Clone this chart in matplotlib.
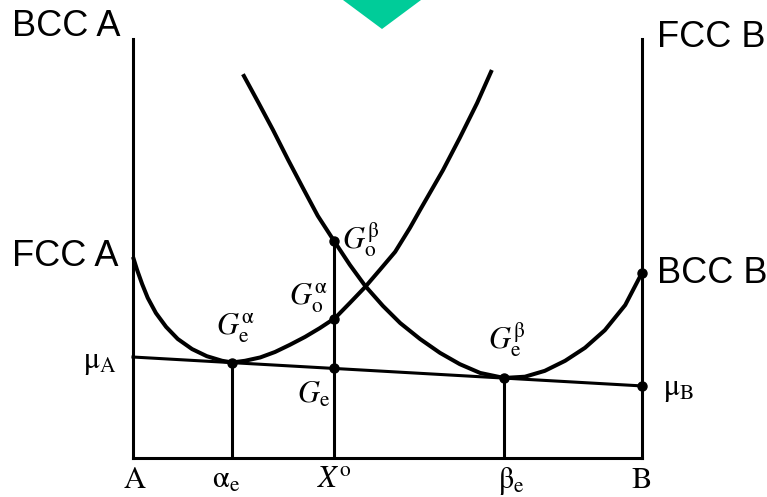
import numpy as np
import matplotlib.pyplot as plt
from matplotlib.patches import Polygon

plt.rcParams['mathtext.fontset'] = 'stix'

# composition (mole fraction of B) and free energy (arbitrary units, 0 at the base line)
x_alpha = [0.0, 0.008, 0.018, 0.029, 0.045, 0.065, 0.088, 0.116, 0.145, 0.175, 0.195,
           0.22, 0.25, 0.279, 0.308, 0.338, 0.367, 0.397, 0.426, 0.456, 0.485, 0.515,
           0.544, 0.564, 0.609, 0.642, 0.676, 0.705]
g_alpha = [48.0, 44.9, 41.5, 38.2, 34.6, 31.3, 28.4, 26.0, 24.3, 23.2, 22.8,
           23.2, 24.0, 25.3, 27.0, 28.9, 31.0, 33.4, 37.0, 40.8, 44.9, 49.2,
           54.9, 59.2, 68.7, 76.4, 84.7, 92.6]

x_beta = [0.216, 0.246, 0.275, 0.305, 0.334, 0.363, 0.395, 0.426, 0.456, 0.491, 0.525,
          0.564, 0.603, 0.642, 0.682, 0.729, 0.770, 0.809, 0.849, 0.888, 0.927, 0.967, 1.0]
g_beta = [91.6, 84.9, 78.3, 71.1, 64.4, 57.8, 51.8, 46.1, 41.1, 36.3, 32.2,
          28.4, 25.1, 22.4, 20.3, 19.1, 19.4, 20.8, 23.2, 26.3, 30.5, 36.5, 44.2]

# common tangent end points (chemical potentials)
mu_A = 24.1
mu_B = 17.2

# compositions
x_e_alpha = 0.195
x_e_beta = 0.729
x_o = 0.395

comp_labels = ['A', r'$\mathrm{α}_\mathrm{e}$', r'$X^\mathrm{o}$', r'$\mathrm{β}_\mathrm{e}$', 'B']
comp_values = [0.0, x_e_alpha, x_o, x_e_beta, 1.0]
comp_shift = [2, -6, 0, 7, 0]


def tangent(x):
    return mu_A + (mu_B - mu_A) * x


W, H = 767, 497
fig = plt.figure(figsize=(W / 100, H / 100), dpi=100)
ax = fig.add_axes([133 / W, 39 / H, 509 / W, 419 / H])
ax.set_xlim(0, 1)
ax.set_ylim(0, 100)
ax.set_xticks([])
ax.set_yticks([])
ax.spines['top'].set_visible(False)
for s in ['left', 'right', 'bottom']:
    ax.spines[s].set_linewidth(2.2)
    ax.spines[s].set_capstyle('projecting')

lw = 2.9
ax.plot(x_alpha, g_alpha, color='black', lw=lw, solid_capstyle='butt', clip_on=False)
ax.plot(x_beta, g_beta, color='black', lw=lw, solid_capstyle='butt', clip_on=False)
ax.plot([0, 1], [mu_A, mu_B], color='black', lw=2.2, clip_on=False)

g_o_alpha = np.interp(x_o, x_alpha, g_alpha)
g_o_beta = np.interp(x_o, x_beta, g_beta)
g_e = tangent(x_o)
g_e_alpha = tangent(x_e_alpha)
g_e_beta = tangent(x_e_beta)

ax.vlines([x_e_alpha, x_o, x_e_beta], 0, [g_e_alpha, g_o_beta, g_e_beta],
          color='black', lw=2.2)

dots_x = [x_e_alpha, x_o, x_o, x_o, x_e_beta, 1.0, 1.0]
dots_g = [g_e_alpha, g_e, g_o_alpha, g_o_beta, g_e_beta, g_beta[-1], mu_B]
ax.plot(dots_x, dots_g, 'o', color='black', ms=6.5, clip_on=False, zorder=5)

serif = dict(fontsize=22, color='black', family='STIXGeneral')


def label(text, x, g, dx, dy, ha='center'):
    ax.annotate(text, (x, g), xytext=(dx, dy), textcoords='offset pixels',
                ha=ha, va='center', annotation_clip=False, **serif)


label(r'$G_\mathrm{e}^\mathrm{α}$', x_e_alpha, g_e_alpha, 3, 35)
label(r'$G_\mathrm{o}^\mathrm{α}$', x_o, g_o_alpha, -6, 21, ha='right')
label(r'$G_\mathrm{o}^\mathrm{β}$', x_o, g_o_beta, 8, 1, ha='left')
label(r'$G_\mathrm{e}$', x_o, g_e, -4, -27, ha='right')
label(r'$G_\mathrm{e}^\mathrm{β}$', x_e_beta, g_e_beta, 3, 39)
label(r'$\mathrm{μ}_\mathrm{A}$', 0, mu_A, -16, -6, ha='right')
label(r'$\mathrm{μ}_\mathrm{B}$', 1, mu_B, 21, -4, ha='left')

for t, xv, sh in zip(comp_labels, comp_values, comp_shift):
    label(t, xv, 0, sh, -23)

# phase names at the pure-component ends
sans = dict(fontsize=26, color='black', family='Liberation Sans', va='baseline')
fig.text(12 / W, 1 - 36 / H, 'BCC A', ha='left', **sans)
fig.text(657 / W, 1 - 47 / H, 'FCC B', ha='left', **sans)
fig.text(12 / W, 1 - 266 / H, 'FCC A', ha='left', **sans)
fig.text(657 / W, 1 - 283 / H, 'BCC B', ha='left', **sans)

# marker at the top edge
tri = Polygon([(343 / W, 1.0), (421 / W, 1.0), (382 / W, 1 - 29 / H)], closed=True,
              transform=fig.transFigure, facecolor='#00CC99', edgecolor='none')
fig.patches.append(tri)

fig.savefig('out.png', dpi=100)
